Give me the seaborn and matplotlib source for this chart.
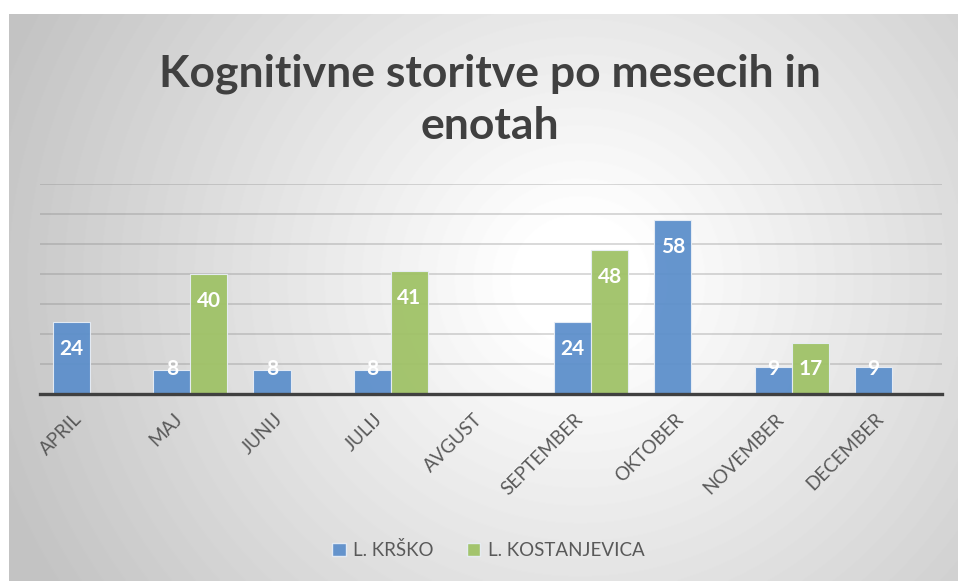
import matplotlib
matplotlib.use('Agg')
import matplotlib.pyplot as plt
import matplotlib.patches as mpatches
import matplotlib.transforms as mtrans
import seaborn as sns
import numpy as np
import pandas as pd

sns.set_theme(style='white')
plt.rcParams['font.family'] = ['Lato', 'DejaVu Sans']

months = ['APRIL', 'MAJ', 'JUNIJ', 'JULIJ', 'AVGUST', 'SEPTEMBER', 'OKTOBER', 'NOVEMBER', 'DECEMBER']
series = ['L. KRŠKO', 'L. KOSTANJEVICA']
krsko = [24, 8, 8, 8, np.nan, 24, 58, 9, 9]
kostanjevica = [np.nan, 40, np.nan, 41, np.nan, 48, np.nan, 17, np.nan]
colors = ['#5C8FCB', '#9FC266']

df = pd.DataFrame({
    'mesec': months * 2,
    'enota': [series[0]] * len(months) + [series[1]] * len(months),
    'vrednost': krsko + kostanjevica,
})

fig = plt.figure(figsize=(9.58, 5.81), dpi=100)
fig.patch.set_facecolor('white')

# radial gradient background of the chart area
W, H = 958, 581
bg = fig.add_axes([9 / W, 0, 1 - 9 / W, 1 - 14 / H], zorder=0)
yy, xx = np.mgrid[14:581, 9:958]
r = np.hypot(xx - 580, (yy - 280) * 1.05)
val = 255 - 60 * np.clip((r - 60) / 560, 0, 1)
bg.imshow(val, cmap='gray', vmin=0, vmax=255, aspect='auto', extent=[0, 1, 0, 1])
bg.axis('off')

ax = fig.add_axes([40 / W, 187 / H, 902 / W, 210 / H], zorder=1)
ax.patch.set_alpha(0)
sns.barplot(data=df, x='mesec', y='vrednost', hue='enota', order=months,
            hue_order=series, palette=colors, width=0.74, gap=0, saturation=1,
            alpha=0.94, edgecolor='#e8eef6', linewidth=0.8, ax=ax,
            legend=False, zorder=3)

ax.set_ylim(0, 70)
ax.set_xlim(-0.5, len(months) - 0.5)
ax.set_yticks(range(10, 71, 10))
ax.yaxis.grid(True, color='#808080', alpha=0.35, linewidth=1.2, zorder=0)
ax.set_axisbelow(True)
ax.tick_params(axis='y', left=False, labelleft=False)
ax.tick_params(axis='x', bottom=False, pad=10)
for s in ['top', 'right', 'left']:
    ax.spines[s].set_visible(False)
ax.spines['bottom'].set_color('#404040')
ax.spines['bottom'].set_linewidth(2.4)
ax.spines['bottom'].set_zorder(5)
ax.set_xlabel('')
ax.set_ylabel('')

offset = mtrans.ScaledTranslation(-8 / 72, 0, fig.dpi_scale_trans)
for lab in ax.get_xticklabels():
    lab.set_rotation(45)
    lab.set_ha('right')
    lab.set_va('center')
    lab.set_rotation_mode('anchor')
    lab.set_fontsize(13.5)
    lab.set_color('#595959')
    lab.set_transform(lab.get_transform() + offset)

# data labels
for cont in ax.containers:
    for p in cont:
        h = p.get_height()
        if np.isnan(h) or h == 0:
            continue
        ax.text(p.get_x() + p.get_width() / 2, max(h - 9, 8.3), f'{int(h)}',
                ha='center', va='center', color='white', fontsize=15,
                fontweight='bold', zorder=6)

fig.text(0.511, 0.828, 'Kognitivne storitve po mesecih in\nenotah', ha='center',
         va='center', fontsize=32, fontweight='bold', color='#404040', linespacing=1.35)

handles = [mpatches.Patch(facecolor=c, alpha=0.94, edgecolor='#e8eef6') for c in colors]
leg = fig.legend(handles, series, loc='center', bbox_to_anchor=(0.51, 0.053), ncol=2,
                 frameon=False, fontsize=13.5, handlelength=0.7, handleheight=0.7,
                 handletextpad=0.4, columnspacing=1.8)
for t in leg.get_texts():
    t.set_color('#595959')

fig.savefig('out.png', dpi=100)
